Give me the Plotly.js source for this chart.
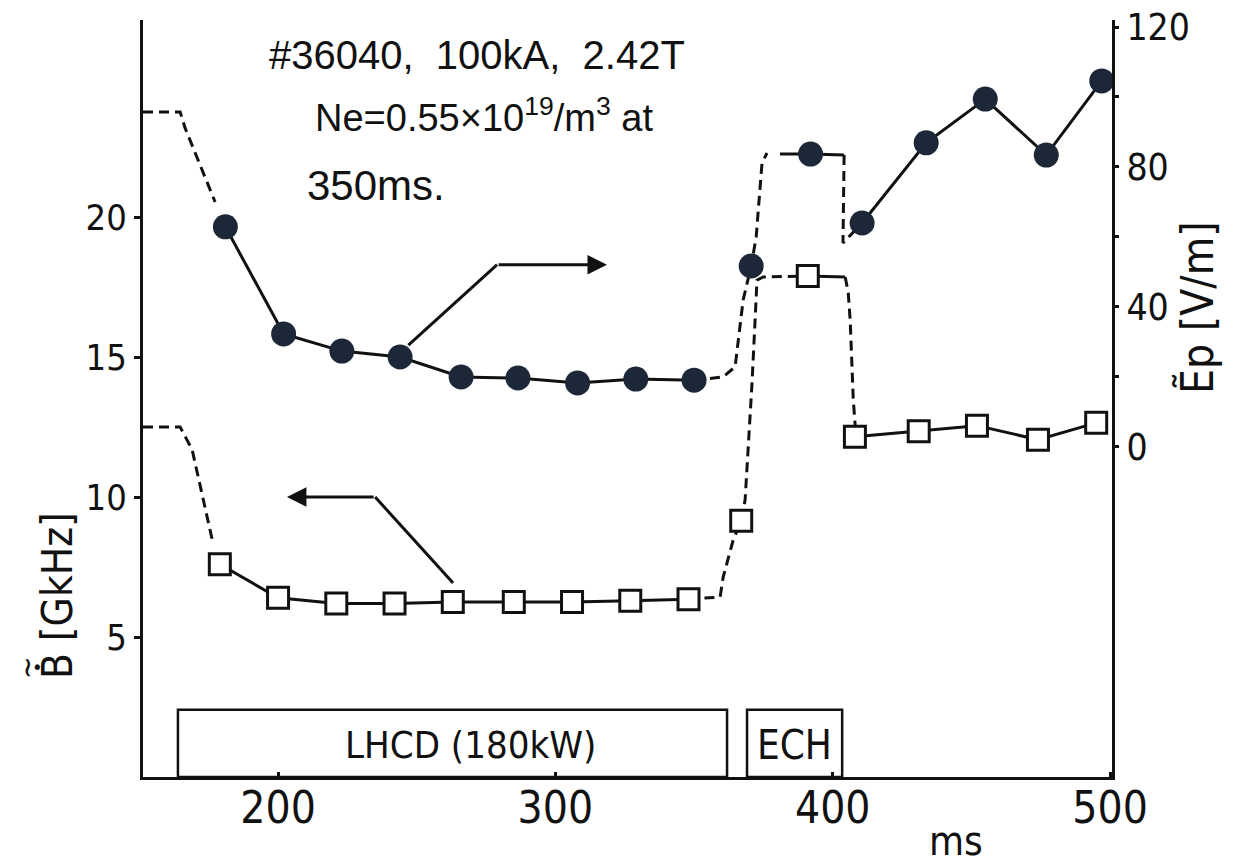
<!DOCTYPE html>
<html><head><meta charset="utf-8">
<script src="https://cdn.plot.ly/plotly-3.0.1.min.js"></script>
<style>html,body{margin:0;padding:0;background:#fff;}#chart{width:1246px;height:865px;}</style>
</head><body><div id="chart"></div>
<script>
// ---- data ----
// B~ (left axis, GkHz) - open squares
const tB   = [179, 200, 221, 242, 263, 285, 306, 327, 348, 367, 391, 408, 431, 452, 474, 495];
const bVal = [7.6, 6.4, 6.2, 6.2, 6.25, 6.25, 6.25, 6.3, 6.35, 9.15, 17.9, 12.15, 12.35, 12.55, 12.05, 12.65];
// Ep (right axis, V/m) - filled circles
const tE   = [181, 202, 223, 244, 266, 286.5, 308, 329, 350, 370.6, 392, 410.6, 433.7, 455, 477, 497];
const eVal = [62.9, 32.3, 27.4, 25.7, 20.0, 19.7, 18.3, 19.4, 19.1, 51.7, 83.7, 64.0, 86.9, 99.4, 83.4, 104.6];

// hand-drawn dashed guide lines (trend before / between measured points)
const bLeadT = [151.3, 164.7, 169.0, 176.2];
const bLeadV = [12.5, 12.5, 11.7, 8.5];
const bJumpT = [348, 359.4, 360.5, 364.1, 367, 368.4, 370.9, 372.7, 374.9, 391];
const bJumpV = [6.35, 6.43, 7.14, 8.46, 9.15, 9.89, 14.07, 17.75, 17.86, 17.9];
const bStubT = [391, 404.5];
const bStubV = [17.9, 17.86];
const bDropT = [404.5, 405.6, 406.3, 407.4, 408.4];
const bDropV = [17.86, 17.29, 16.3, 13.5, 12.15];

const eLeadT = [151.3, 164.7, 166.5, 177.3];
const eLeadV = [95.7, 95.7, 91.1, 70.0];
const eJumpT = [350, 360.5, 364.8, 367.7, 370.6, 372.4, 374.5, 376.3];
const eJumpV = [19.1, 20.0, 22.9, 42.0, 51.7, 60.0, 81.1, 84.0];
const eStubT = [381.0, 392, 404.1];
const eStubV = [83.7, 83.7, 83.4];
const eDropT = [404.1, 403.7, 410.6];
const eDropV = [83.4, 58.3, 64.0];

// heating phases
const phaseName  = ["LHCD (180kW)", "ECH"];
const phaseStart = [163.9, 369.1];
const phaseEnd   = [361.9, 403.4];
const phaseLevel = 2.4;

// tick labels
const xTicks  = [200, 300, 400, 500];
const yTicks  = [5, 10, 15, 20];
const y2Ticks = [0, 20, 40, 60, 80, 100, 120];
const y2Text  = ["0", "", "40", "", "80", "", "120"];

// ---- styling ----
const ink = "#111111";
const dot = "#1c2837";
const narrow = "'Liberation Sans Narrow', 'DejaVu Sans Condensed', 'Arial Narrow', sans-serif";
const reg = "'Liberation Sans', Arial, sans-serif";
const dashA = "10px,6px";

function lineTrace(x, y, axis, dash) {
  return {x: x, y: y, yaxis: axis, mode: "lines", hoverinfo: "skip", showlegend: false,
          line: {color: ink, width: 3, dash: dash || "solid"}};
}
const traces = [
  lineTrace(bLeadT, bLeadV, "y", dashA),
  lineTrace(tB.slice(0, 9), bVal.slice(0, 9), "y"),
  lineTrace(bJumpT, bJumpV, "y", dashA),
  lineTrace(bStubT, bStubV, "y"),
  lineTrace(bDropT, bDropV, "y", dashA),
  lineTrace(tB.slice(11), bVal.slice(11), "y"),
  {x: tB, y: bVal, yaxis: "y", mode: "markers", showlegend: false, name: "B",
   marker: {symbol: "square", size: 21, color: "#ffffff", line: {color: ink, width: 3}}},
  lineTrace(eLeadT, eLeadV, "y2", dashA),
  lineTrace(tE.slice(0, 9), eVal.slice(0, 9), "y2"),
  lineTrace(eJumpT, eJumpV, "y2", dashA),
  lineTrace(eStubT, eStubV, "y2"),
  lineTrace(eDropT, eDropV, "y2", dashA),
  lineTrace(tE.slice(11), eVal.slice(11), "y2"),
  {x: tE, y: eVal, yaxis: "y2", mode: "markers", showlegend: false, name: "Ep",
   marker: {symbol: "circle", size: 25, color: dot, line: {width: 0}}}
];

const shapes = [];
const annotations = [];
phaseName.forEach(function (n, i) {
  shapes.push({type: "rect", xref: "x", yref: "y", x0: phaseStart[i], x1: phaseEnd[i], y0: 0, y1: phaseLevel,
               line: {color: ink, width: 2.5}, fillcolor: "rgba(0,0,0,0)"});
  annotations.push({xref: "x", yref: "y", x: (phaseStart[i] + phaseEnd[i]) / 2, y: phaseLevel / 2,
                    xshift: i === 0 ? 18 : 0, yshift: -2, text: n, showarrow: false,
                    font: {family: narrow, size: i === 0 ? 38 : 40, color: ink}});
});
// pointer arrows (which axis each curve belongs to)
shapes.push({type: "line", xref: "x", yref: "y", x0: 247, y0: 15.43, x1: 279, y1: 18.3, line: {color: ink, width: 3}});
shapes.push({type: "line", xref: "x", yref: "y", x0: 263.1, y0: 6.93, x1: 235, y1: 10.0, line: {color: ink, width: 3}});
annotations.push({xref: "x", yref: "y", axref: "x", ayref: "y", x: 318.6, y: 18.3, ax: 279, ay: 18.3,
                  text: "", showarrow: true, arrowhead: 2, arrowsize: 1.3, arrowwidth: 3, arrowcolor: ink, standoff: 0});
annotations.push({xref: "x", yref: "y", axref: "x", ayref: "y", x: 203.2, y: 10.0, ax: 235, ay: 10.0,
                  text: "", showarrow: true, arrowhead: 2, arrowsize: 1.3, arrowwidth: 3, arrowcolor: ink, standoff: 0});
// text block
annotations.push({xref: "paper", yref: "paper", x: 0.128, y: 0.954, xanchor: "left", yanchor: "middle", showarrow: false,
                  text: "#36040,  100kA,  2.42T", font: {family: reg, size: 40, color: ink}});
annotations.push({xref: "paper", yref: "paper", x: 0.1754, y: 0.875, xanchor: "left", yanchor: "middle", showarrow: false,
                  text: "Ne=0.55×10<sup>19</sup>/m<sup>3</sup> at", font: {family: reg, size: 38, color: ink}});
annotations.push({xref: "paper", yref: "paper", x: 0.167, y: 0.781, xanchor: "left", yanchor: "middle", showarrow: false,
                  text: "350ms.", font: {family: reg, size: 42, color: ink}});
// axis titles
annotations.push({xref: "paper", yref: "paper", x: -0.088, y: 0.24, xanchor: "center", yanchor: "middle", showarrow: false,
                  textangle: -90, text: "B [GkHz]", font: {family: narrow, size: 42, color: ink}});
annotations.push({xref: "paper", yref: "paper", x: -0.121, y: 0.145, xanchor: "center", yanchor: "middle", showarrow: false,
                  textangle: -90, text: "~", font: {family: narrow, size: 30, color: ink}});
annotations.push({xref: "paper", yref: "paper", x: -0.109, y: 0.145, xanchor: "center", yanchor: "middle", showarrow: false,
                  text: "•", font: {family: narrow, size: 20, color: ink}});
annotations.push({xref: "paper", yref: "paper", x: 1.088, y: 0.62, xanchor: "center", yanchor: "middle", showarrow: false,
                  textangle: -90, text: "\u1EBCp [V/m]", font: {family: narrow, size: 44, color: ink}});
annotations.push({xref: "paper", yref: "paper", x: 0.839, y: -0.085, xanchor: "center", yanchor: "middle", showarrow: false,
                  text: "ms", font: {family: narrow, size: 40, color: ink}});

const layout = {
  width: 1246, height: 865,
  margin: {l: 143, r: 134, t: 20, b: 88},
  paper_bgcolor: "#ffffff", plot_bgcolor: "#ffffff",
  showlegend: false,
  xaxis: {range: [151.3, 500.7], tickvals: xTicks, ticks: "inside", ticklen: 5, tickwidth: 3, tickcolor: ink,
          showline: true, linecolor: ink, linewidth: 3, showgrid: false, zeroline: false, ticklabelstandoff: -10,
          tickfont: {family: narrow, size: 44, color: ink}},
  yaxis: {range: [0, 27.04], tickvals: yTicks, ticks: "outside", ticklen: 6, tickwidth: 3, tickcolor: ink,
          showline: true, linecolor: ink, linewidth: 3, showgrid: false, zeroline: false,
          tickfont: {family: narrow, size: 36, color: ink}},
  yaxis2: {range: [-94.3, 122.0], overlaying: "y", side: "right", anchor: "x",
           tickvals: y2Ticks, ticktext: y2Text, ticks: "outside", ticklen: 4, tickwidth: 3, tickcolor: ink,
           showline: true, linecolor: ink, linewidth: 3, showgrid: false, zeroline: false,
           tickfont: {family: narrow, size: 37, color: ink}},
  shapes: shapes,
  annotations: annotations
};
Plotly.newPlot("chart", traces, layout, {displayModeBar: false, staticPlot: true});
</script></body></html>
